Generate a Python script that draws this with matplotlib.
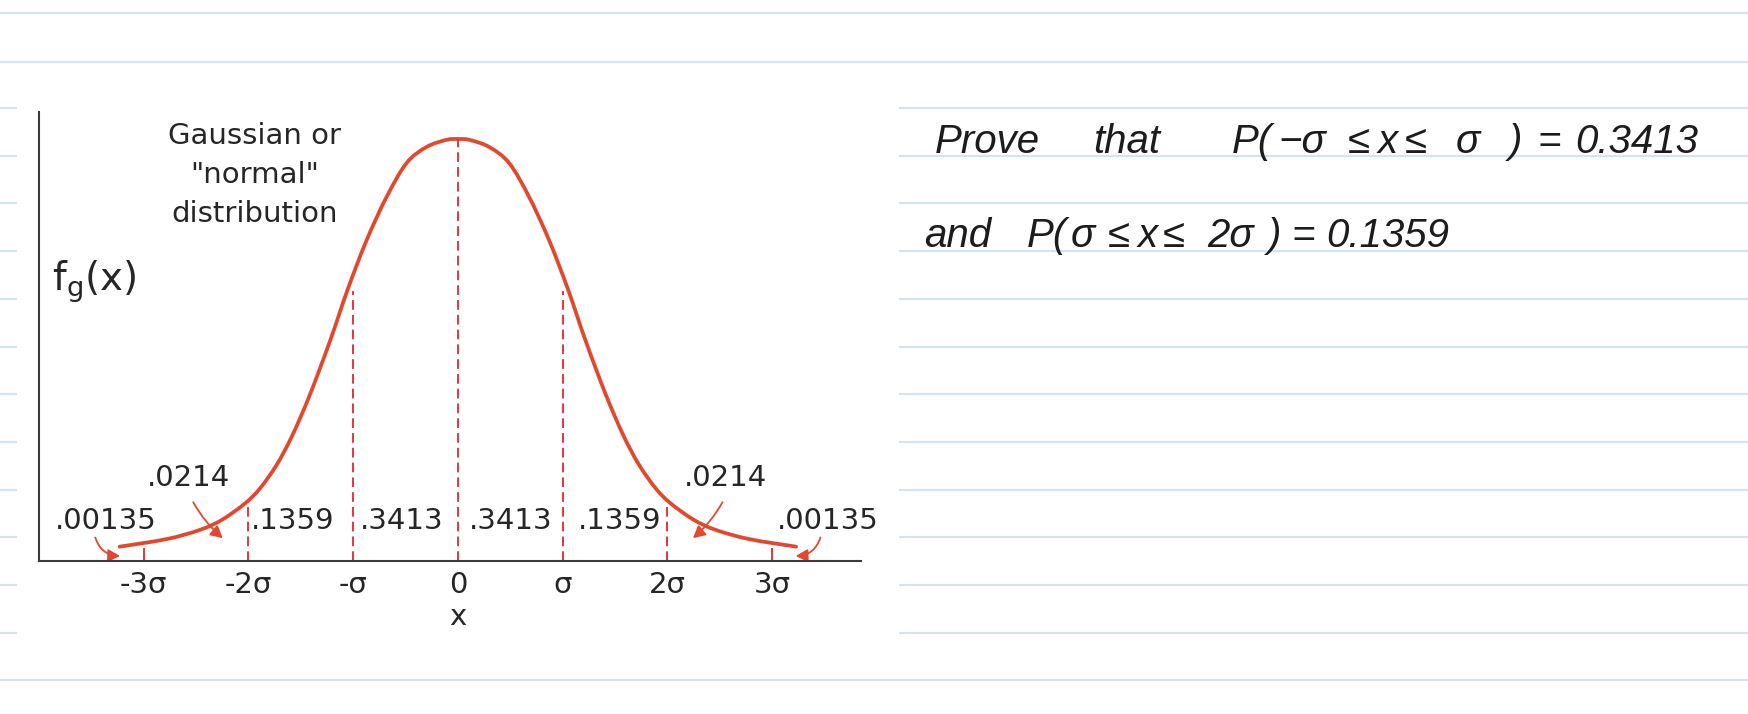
import numpy as np
import matplotlib.pyplot as plt
from matplotlib.path import Path
from matplotlib.patches import PathPatch, FancyArrowPatch

# Gaussian curve: x in sigma, height relative to the peak
curve_x = [-3.23, -2.78, -2.46, -2.25, -2.03, -1.89, -1.73, -1.58, -1.41, -1.22, -1.05,
           -0.87, -0.68, -0.49, -0.30, -0.11, 0.00, 0.11, 0.30, 0.49, 0.68, 0.87,
           1.05, 1.22, 1.41, 1.58, 1.73, 1.89, 2.03, 2.25, 2.46, 2.78, 3.23]
curve_y = [0.034, 0.052, 0.074, 0.098, 0.137, 0.172, 0.228, 0.298, 0.396, 0.522, 0.645,
           0.761, 0.863, 0.943, 0.981, 0.998, 1.000, 0.998, 0.981, 0.943, 0.863, 0.761,
           0.645, 0.522, 0.396, 0.298, 0.228, 0.172, 0.137, 0.098, 0.074, 0.052, 0.034]

# dashed dividers (sigma) and how high they reach
divider_x = [-2, -1, 0, 1, 2]
divider_top = [0.135, 0.64, 1.0, 0.64, 0.135]

tick_pos = [-3, -2, -1, 0, 1, 2, 3]
tick_labels = ['-3σ', '-2σ', '-σ', '0', 'σ', '2σ', '3σ']

# area fractions written under the curve
area_labels = ['.00135', '.1359', '.3413', '.3413', '.1359', '.00135']
area_x = [-3.36, -1.58, -0.535, 0.505, 1.545, 3.53]
tail_labels = ['.0214', '.0214']
tail_x = [-2.57, 2.56]

# handwritten note, word by word: (text, left px)
note_line1 = [('Prove', 935), ('that', 1093), ('P(', 1232), ('−σ', 1278), ('≤', 1348),
              ('x', 1378), ('≤', 1405), ('σ', 1456), (')', 1509), ('=', 1537),
              ('0.3413', 1575)]
note_line2 = [('and', 924), ('P(', 1027), ('σ', 1071), ('≤', 1108), ('x', 1138),
              ('≤', 1163), ('2σ', 1207), (')', 1268), ('=', 1291), ('0.1359', 1326)]

rule_color = '#d2e4f3'
curve_color = '#e2482d'
dash_color = '#e6343c'
ink = '#262626'


def smooth_path(xs, ys):
    # Catmull-Rom through the read points, drawn as cubic Bezier segments
    pts = np.column_stack([xs, ys])
    n = len(pts)
    verts = [pts[0]]
    codes = [Path.MOVETO]
    for i in range(n - 1):
        p0 = pts[max(i - 1, 0)]
        p1 = pts[i]
        p2 = pts[i + 1]
        p3 = pts[min(i + 2, n - 1)]
        verts += [p1 + (p2 - p0) / 6, p2 - (p3 - p1) / 6, p2]
        codes += [Path.CURVE4] * 3
    return Path(verts, codes)


fig = plt.figure(figsize=(17.49, 7.14), dpi=100)
fig.patch.set_facecolor('white')

# notebook page in pixel units
page = fig.add_axes([0, 0, 1, 1])
page.set_xlim(0, 1749)
page.set_ylim(714, 0)
page.axis('off')

full_rules = [13, 62, 680]
short_rules = [108, 155.7, 203.4, 251, 298.8, 346.5, 394, 441.8, 489.6, 537.3, 585, 632.7]
page.hlines(full_rules, 0, 1749, color=rule_color, lw=1.5)
page.hlines(short_rules, 0, 17, color=rule_color, lw=1.5)
page.hlines(short_rules, 899, 1749, color=rule_color, lw=1.5)

hand = dict(family='Liberation Sans', style='italic', fontsize=29, color='#1c1c1c',
            va='baseline', ha='left')
for word, x in note_line1:
    page.text(x, 153, word, **hand)
for word, x in note_line2:
    page.text(x, 247, word, **hand)

# the figure
ax = fig.add_axes([39 / 1749, 153 / 714, 822 / 1749, 449.4 / 714])
ax.patch.set_alpha(0)
ax.set_xlim(-4.0, 3.85)
ax.set_ylim(0, 1.065)
for side in ['top', 'right']:
    ax.spines[side].set_visible(False)
for side in ['left', 'bottom']:
    ax.spines[side].set_color('#3a3a3a')
    ax.spines[side].set_linewidth(1.5)
ax.set_yticks([])
ax.set_xticks(tick_pos, tick_labels)
ax.tick_params(axis='x', length=0, pad=7, labelsize=21, labelcolor=ink)
for lab in ax.get_xticklabels():
    lab.set_family('DejaVu Sans')

ax.add_patch(PathPatch(smooth_path(curve_x, curve_y), facecolor='none',
                       edgecolor=curve_color, lw=2.7, capstyle='round'))
ax.vlines(divider_x, 0, divider_top, color=dash_color, lw=1.4,
          linestyles=(0, (5, 2.6)))
ax.vlines([-3, 3], 0, 0.03, color=dash_color, lw=1.4)

txt = dict(family='DejaVu Sans', fontsize=21, color=ink, ha='center', va='center')
for lab, x in zip(area_labels, area_x):
    ax.text(x, 0.095, lab, **txt)
for lab, x in zip(tail_labels, tail_x):
    ax.text(x, 0.197, lab, **txt)

ax.text(-1.94, 0.915, 'Gaussian or\n"normal"\ndistribution', linespacing=1.5, **txt)
ax.text(-3.88, 0.661, r'$\mathregular{f_g(x)}$', family='DejaVu Sans', fontsize=28,
        color=ink, ha='left', va='center')
ax.text(0, -0.133, 'x', clip_on=False, **txt)

# little arrows pointing into the tails
arrows = [((-3.47, 0.062), (-3.20, 0.012), 0.4),
          ((-2.54, 0.145), (-2.225, 0.05), 0.1),
          ((2.54, 0.145), (2.225, 0.05), -0.1),
          ((3.47, 0.062), (3.20, 0.012), -0.4)]
for a, b, rad in arrows:
    ax.add_patch(FancyArrowPatch(a, b, arrowstyle='-|>,head_length=0.6,head_width=0.32',
                                 connectionstyle=f'arc3,rad={rad}', mutation_scale=12,
                                 lw=1.3, color=curve_color, clip_on=False))

fig.savefig('out.png', dpi=100, facecolor='white')
